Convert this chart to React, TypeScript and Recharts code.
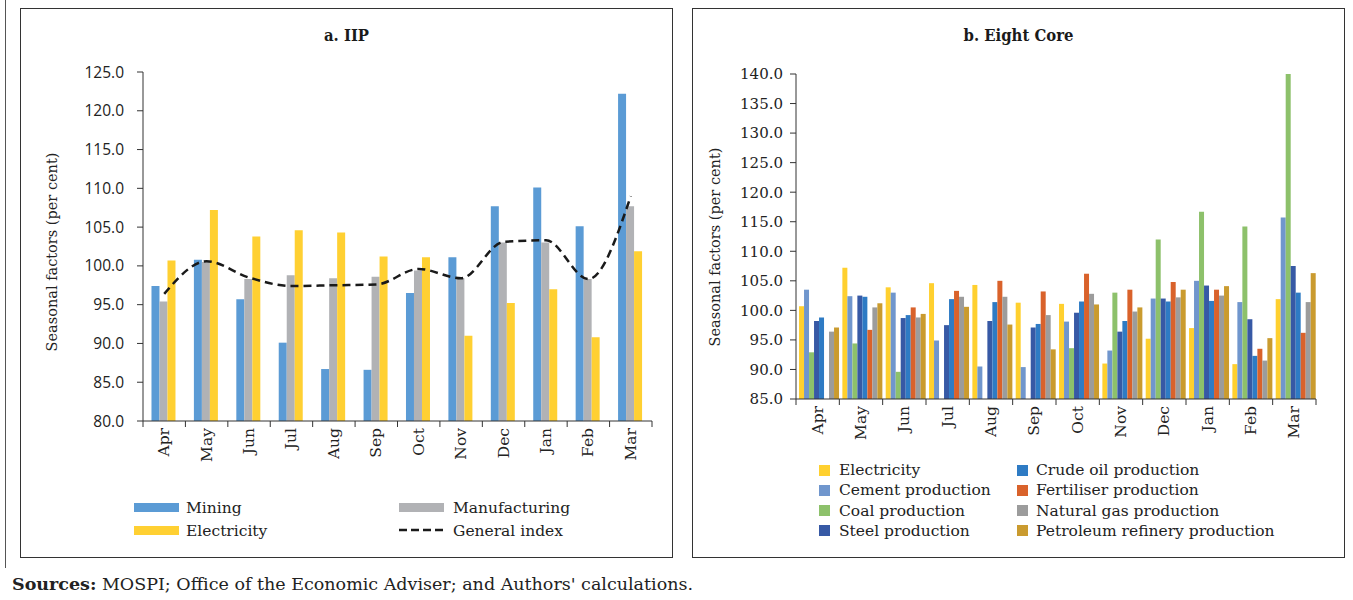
import { ComposedChart, BarChart, Bar, Line, XAxis, YAxis } from 'recharts';

const SERIF = '"DejaVu Serif", serif';
const SANS = '"Open Sans", sans-serif';

const months = ['Apr', 'May', 'Jun', 'Jul', 'Aug', 'Sep', 'Oct', 'Nov', 'Dec', 'Jan', 'Feb', 'Mar'];

// a. IIP
const iipMining = [97.4, 100.8, 95.7, 90.1, 86.7, 86.6, 96.5, 101.1, 107.7, 110.1, 105.1, 122.2];
const iipManufacturing = [95.4, 100.5, 98.3, 98.8, 98.4, 98.6, 99.4, 98.4, 103.0, 103.0, 98.3, 107.7];
const iipElectricity = [100.7, 107.2, 103.8, 104.6, 104.3, 101.2, 101.1, 91.0, 95.2, 97.0, 90.8, 101.9];
const iipGeneral = [96.4, 100.6, 98.5, 97.4, 97.5, 97.6, 99.6, 98.4, 103.1, 103.3, 98.3, 109.0];
const iipTicks = [80, 85, 90, 95, 100, 105, 110, 115, 120, 125];

// b. Eight Core
const coreElectricity = [100.7, 107.2, 103.9, 104.6, 104.3, 101.3, 101.1, 91.0, 95.2, 97.0, 90.9, 101.9];
const coreCement = [103.5, 102.4, 103.0, 94.9, 90.5, 90.4, 98.1, 93.2, 102.0, 105.0, 101.4, 115.7];
const coreCoal = [92.9, 94.4, 89.6, 84.6, 84.6, 84.6, 93.6, 103.0, 112.0, 116.7, 114.2, 140.0];
const coreSteel = [98.2, 102.5, 98.7, 97.5, 98.2, 97.1, 99.6, 96.4, 102.0, 104.2, 98.5, 107.5];
const coreCrude = [98.8, 102.3, 99.2, 101.9, 101.4, 97.7, 101.5, 98.2, 101.5, 101.6, 92.3, 103.0];
const coreFertiliser = [84.5, 96.7, 100.5, 103.3, 105.0, 103.2, 106.2, 103.5, 104.8, 103.5, 93.5, 96.2];
const coreGas = [96.4, 100.5, 98.8, 102.3, 102.3, 99.2, 102.8, 99.8, 102.2, 102.5, 91.5, 101.4];
const corePetroleum = [97.1, 101.2, 99.4, 100.6, 97.6, 93.4, 101.0, 100.5, 103.5, 104.1, 95.3, 106.3];
const coreTicks = [85, 90, 95, 100, 105, 110, 115, 120, 125, 130, 135, 140];

const iipSeries = [
  { key: 'mining', name: 'Mining', color: '#5B9BD5', values: iipMining },
  { key: 'manufacturing', name: 'Manufacturing', color: '#B1B2B5', values: iipManufacturing },
  { key: 'electricity', name: 'Electricity', color: '#FFD032', values: iipElectricity },
];

const coreSeries = [
  { key: 'electricity', name: 'Electricity', color: '#FFD02F', values: coreElectricity },
  { key: 'cement', name: 'Cement production', color: '#7096CD', values: coreCement },
  { key: 'coal', name: 'Coal production', color: '#8DC16B', values: coreCoal },
  { key: 'steel', name: 'Steel production', color: '#3759A5', values: coreSteel },
  { key: 'crude', name: 'Crude oil production', color: '#2E7BC4', values: coreCrude },
  { key: 'fertiliser', name: 'Fertiliser production', color: '#D9622B', values: coreFertiliser },
  { key: 'gas', name: 'Natural gas production', color: '#9C9C9C', values: coreGas },
  { key: 'petroleum', name: 'Petroleum refinery production', color: '#CA9B2F', values: corePetroleum },
];

const iipRows = months.map((month, i) => {
  const row: Record<string, string | number> = { month, general: iipGeneral[i] };
  iipSeries.forEach((s) => (row[s.key] = s.values[i]));
  return row;
});

const coreRows = months.map((month, i) => {
  const row: Record<string, string | number> = { month };
  coreSeries.forEach((s) => (row[s.key] = s.values[i]));
  return row;
});

const LEFT_BAND = (653 - 123 - 21) / months.length;
const RIGHT_BAND = (653 - 104 - 29) / months.length;

function MonthTick(props: any) {
  const { x, y, payload, index, band } = props;
  const ty = y + 7;
  return (
    <g>
      <line x1={x - band / 2} x2={x - band / 2} y1={y} y2={y + 6} stroke="#333" />
      {index === months.length - 1 && (
        <line x1={x + band / 2} x2={x + band / 2} y1={y} y2={y + 6} stroke="#333" />
      )}
      <text
        x={x}
        y={ty}
        transform={`rotate(-90 ${x} ${ty})`}
        textAnchor="end"
        dominantBaseline="central"
        fontSize={15.5}
        fontFamily={SERIF}
        fill="#222"
      >
        {payload.value}
      </text>
    </g>
  );
}

const yLabel = (x: number, cy: number) => () => (
  <text
    x={x}
    y={cy}
    transform={`rotate(-90 ${x} ${cy})`}
    textAnchor="middle"
    dominantBaseline="central"
    fontSize={14.5}
    fontFamily={SERIF}
    fill="#222"
  >
    Seasonal factors (per cent)
  </text>
);

const panel: React.CSSProperties = {
  position: 'absolute',
  top: 8,
  width: 653,
  height: 550,
  border: '1px solid #333',
  boxSizing: 'border-box',
};

const title: React.CSSProperties = {
  position: 'absolute',
  top: 17,
  left: 0,
  width: '100%',
  textAlign: 'center',
  fontFamily: '"DejaVu Serif Condensed", "DejaVu Serif", serif',
  fontWeight: 'bold',
  fontSize: 16.5,
  color: '#1a1a1a',
};

const legendText: React.CSSProperties = {
  position: 'absolute',
  fontFamily: SERIF,
  fontSize: 15.5,
  color: '#222',
  lineHeight: '20px',
  whiteSpace: 'nowrap',
};

export default function App() {
  return (
    <div style={{ position: 'absolute', left: 0, top: 0, width: 1353, height: 600, background: '#fff' }}>
      <div style={{ position: 'absolute', left: 5, top: 0, width: 1, height: 568, background: '#555' }} />

      {/* a. IIP */}
      <div style={{ ...panel, left: 20 }}>
        <div style={title}>a. IIP</div>
        <div style={{ position: 'absolute', left: -1, top: -1 }}>
          <ComposedChart
            width={653}
            height={550}
            data={iipRows}
            margin={{ top: 64, right: 21, bottom: 77, left: 0 }}
            barGap={0}
            barCategoryGap="20%"
          >
            <XAxis
              dataKey="month"
              interval={0}
              height={60}
              tickLine={false}
              tickSize={0}
              tickMargin={0}
              axisLine={{ stroke: '#333' }}
              tick={(p: any) => <MonthTick {...p} band={LEFT_BAND} />}
            />
            <YAxis
              width={123}
              domain={[80, 125]}
              ticks={iipTicks}
              allowDataOverflow
              tickFormatter={(v: number) => v.toFixed(1)}
              tick={{ fill: '#222', fontSize: 15.5, fontFamily: SANS }}
              tickMargin={13}
              tickLine={{ stroke: '#333' }}
              axisLine={{ stroke: '#333' }}
              label={{ content: yLabel(32, 244) }}
            />
            {iipSeries.map((s) => (
              <Bar key={s.key} dataKey={s.key} name={s.name} fill={s.color} isAnimationActive={false} />
            ))}
            <Line
              type="monotone"
              dataKey="general"
              name="General index"
              stroke="#1a1a1a"
              strokeWidth={2.5}
              strokeDasharray="8 5"
              dot={false}
              activeDot={false}
              isAnimationActive={false}
            />
          </ComposedChart>
        </div>
        {/* legend */}
        <div style={{ position: 'absolute', left: 113, top: 494, width: 45, height: 9, background: iipSeries[0].color }} />
        <div style={{ ...legendText, left: 165, top: 489 }}>{iipSeries[0].name}</div>
        <div style={{ position: 'absolute', left: 378, top: 494, width: 45, height: 9, background: iipSeries[1].color }} />
        <div style={{ ...legendText, left: 432, top: 489 }}>{iipSeries[1].name}</div>
        <div style={{ position: 'absolute', left: 113, top: 517, width: 45, height: 9, background: iipSeries[2].color }} />
        <div style={{ ...legendText, left: 165, top: 512 }}>{iipSeries[2].name}</div>
        <svg style={{ position: 'absolute', left: 378, top: 516 }} width={46} height={10}>
          <line x1={0} x2={46} y1={5} y2={5} stroke="#1a1a1a" strokeWidth={2.5} strokeDasharray="8 4" />
        </svg>
        <div style={{ ...legendText, left: 432, top: 512 }}>General index</div>
      </div>

      {/* b. Eight Core */}
      <div style={{ ...panel, left: 692 }}>
        <div style={title}>b. Eight Core</div>
        <div style={{ position: 'absolute', left: -1, top: -1 }}>
          <BarChart
            width={653}
            height={450}
            data={coreRows}
            margin={{ top: 66, right: 29, bottom: 9, left: 0 }}
            barGap={0}
            barCategoryGap="7%"
          >
            <XAxis
              dataKey="month"
              interval={0}
              height={50}
              tickLine={false}
              tickSize={0}
              tickMargin={0}
              axisLine={{ stroke: '#333' }}
              tick={(p: any) => <MonthTick {...p} band={RIGHT_BAND} />}
            />
            <YAxis
              width={104}
              domain={[85, 140]}
              ticks={coreTicks}
              allowDataOverflow
              tickFormatter={(v: number) => v.toFixed(1)}
              tick={{ fill: '#222', fontSize: 15, fontFamily: SERIF }}
              tickMargin={7}
              tickLine={{ stroke: '#333' }}
              axisLine={{ stroke: '#333' }}
              label={{ content: yLabel(23, 239) }}
            />
            {coreSeries.map((s) => (
              <Bar key={s.key} dataKey={s.key} name={s.name} fill={s.color} isAnimationActive={false} />
            ))}
          </BarChart>
        </div>
        {coreSeries.map((s, i) => {
          const col = Math.floor(i / 4);
          const row = i % 4;
          const top = 451 + row * 20.3;
          return (
            <div key={s.key}>
              <div
                style={{
                  position: 'absolute',
                  left: col === 0 ? 126 : 324,
                  top: top + 4.5,
                  width: 11,
                  height: 11,
                  background: s.color,
                }}
              />
              <div style={{ ...legendText, left: col === 0 ? 146 : 343, top }}>{s.name}</div>
            </div>
          );
        })}
      </div>

      <div
        style={{
          position: 'absolute',
          left: 12,
          top: 574,
          fontFamily: SERIF,
          fontSize: 17.5,
          color: '#222',
          whiteSpace: 'nowrap',
        }}
      >
        <b>Sources:</b> MOSPI; Office of the Economic Adviser; and Authors' calculations.
      </div>
    </div>
  );
}
